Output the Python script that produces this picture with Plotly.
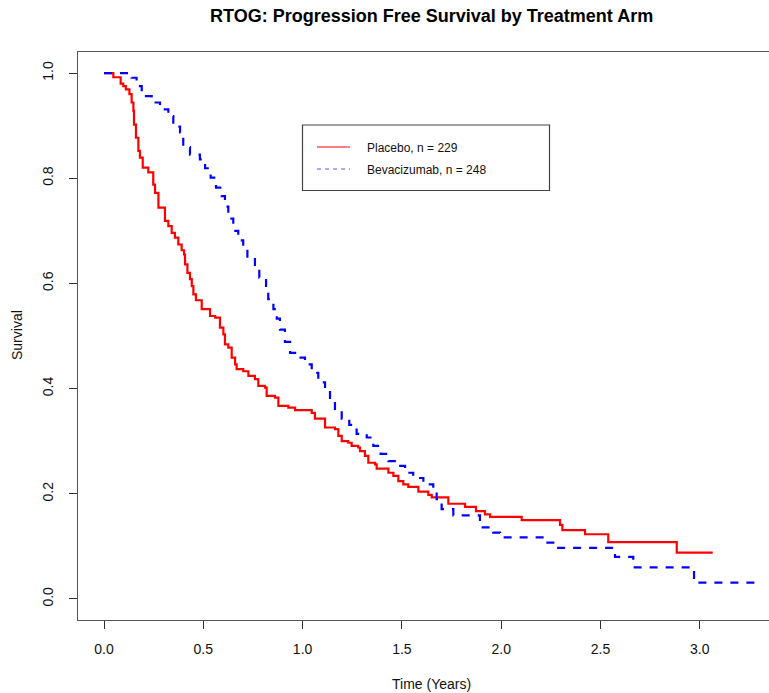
import plotly.graph_objects as go

# Kaplan-Meier step data
placebo_t = [0, 0.047, 0.084, 0.097, 0.11, 0.128, 0.139, 0.148, 0.151, 0.161, 0.173, 0.181,
             0.195, 0.223, 0.248, 0.257, 0.274, 0.307, 0.324, 0.341, 0.357, 0.374, 0.391,
             0.403, 0.408, 0.42, 0.433, 0.442, 0.45, 0.463, 0.492, 0.534, 0.56, 0.584, 0.601,
             0.609, 0.626, 0.643, 0.66, 0.668, 0.701, 0.727, 0.76, 0.777, 0.811, 0.819, 0.861,
             0.878, 0.928, 0.962, 1.046, 1.062, 1.113, 1.163, 1.18, 1.197, 1.23, 1.247, 1.28,
             1.289, 1.314, 1.331, 1.365, 1.373, 1.432, 1.457, 1.482, 1.507, 1.532, 1.583,
             1.633, 1.65, 1.734, 1.818, 1.873, 1.918, 1.944, 2.103, 2.296, 2.308, 2.422,
             2.539, 2.884, 3.065]
placebo_s = [1.0, 0.992, 0.980, 0.975, 0.969, 0.960, 0.944, 0.928, 0.902, 0.877, 0.852, 0.839,
             0.820, 0.811, 0.788, 0.772, 0.744, 0.719, 0.709, 0.696, 0.687, 0.674, 0.663,
             0.655, 0.636, 0.620, 0.608, 0.595, 0.579, 0.568, 0.551, 0.538, 0.535, 0.516, 0.503,
             0.484, 0.478, 0.459, 0.446, 0.437, 0.433, 0.424, 0.418, 0.405, 0.402, 0.386, 0.383,
             0.367, 0.364, 0.359, 0.354, 0.343, 0.326, 0.323, 0.310, 0.300, 0.297, 0.291, 0.288,
             0.281, 0.272, 0.259, 0.256, 0.248, 0.240, 0.234, 0.224, 0.218, 0.213, 0.204,
             0.198, 0.193, 0.181, 0.175, 0.167, 0.161, 0.156, 0.150, 0.141, 0.131, 0.123,
             0.108, 0.088, 0.088]

bev_t = [0, 0.139, 0.164, 0.19, 0.24, 0.282, 0.324, 0.349, 0.383, 0.399, 0.433, 0.483, 0.509,
         0.537, 0.564, 0.593, 0.609, 0.626, 0.651, 0.676, 0.701, 0.722, 0.76, 0.782, 0.816,
         0.827, 0.853, 0.870, 0.886, 0.911, 0.937, 0.970, 1.012, 1.046, 1.079, 1.113, 1.138,
         1.163, 1.197, 1.235, 1.272, 1.323, 1.356, 1.393, 1.432, 1.474, 1.516, 1.557, 1.608,
         1.658, 1.675, 1.70, 1.759, 1.893, 1.96, 1.994, 2.22, 2.271, 2.573, 2.665, 2.971, 3.278]
bev_s = [1.0, 0.991, 0.975, 0.956, 0.944, 0.931, 0.918, 0.898, 0.887, 0.859, 0.845, 0.836, 0.819,
         0.801, 0.782, 0.766, 0.746, 0.723, 0.700, 0.682, 0.666, 0.646, 0.627, 0.611, 0.592,
         0.570, 0.551, 0.533, 0.512, 0.489, 0.468, 0.459, 0.446, 0.430, 0.412, 0.396, 0.376,
         0.359, 0.343, 0.331, 0.314, 0.307, 0.291, 0.276, 0.262, 0.253, 0.240, 0.230, 0.218,
         0.206, 0.190, 0.171, 0.159, 0.136, 0.126, 0.117, 0.107, 0.097, 0.080, 0.060, 0.031, 0.031]

x_ticks = [0.0, 0.5, 1.0, 1.5, 2.0, 2.5, 3.0]
y_ticks = [0.0, 0.2, 0.4, 0.6, 0.8, 1.0]
legend_labels = ["Placebo, n = 229", "Bevacizumab, n = 248"]

FONT = "Liberation Sans, Arial, sans-serif"
W, H = 769, 693
L, R, T, B = 78, 0, 52, 73
pw, ph = W - L - R, H - T - B


def px(x):
    return (x - L) / pw


def py(y):
    return (H - B - y) / ph


fig = go.Figure()
fig.add_trace(go.Scatter(x=placebo_t, y=placebo_s, mode="lines", line_shape="hv",
                         line=dict(color="#ff0000", width=2.2), showlegend=False,
                         name=legend_labels[0]))
fig.add_trace(go.Scatter(x=bev_t, y=bev_s, mode="lines", line_shape="hv",
                         line=dict(color="#0000ff", width=2.2, dash="8px,8px"),
                         showlegend=False, name=legend_labels[1]))

shapes = [
    # legend box
    dict(type="rect", xref="paper", yref="paper", x0=px(302.5), x1=px(549.5),
         y0=py(190.5), y1=py(125), line=dict(color="#444", width=1.2), fillcolor="white"),
    dict(type="line", xref="paper", yref="paper", x0=px(317), x1=px(350),
         y0=py(147), y1=py(147), line=dict(color="#ff0000", width=1)),
    dict(type="line", xref="paper", yref="paper", x0=px(317), x1=px(350),
         y0=py(169), y1=py(169), line=dict(color="#5555ff", width=1, dash="4px,4px")),
]

annotations = [
    dict(text="<b>RTOG: Progression Free Survival by Treatment Arm</b>", xref="paper",
         yref="paper", x=px(431), y=py(16), xanchor="center", yanchor="middle",
         showarrow=False, font=dict(family=FONT, size=18, color="#000")),
    dict(text="Time (Years)", xref="paper", yref="paper", x=px(431), y=py(684),
         xanchor="center", yanchor="middle", showarrow=False,
         font=dict(family=FONT, size=14, color="#111")),
    dict(text="Survival", xref="paper", yref="paper", x=px(17), y=py(335),
         xanchor="center", yanchor="middle", showarrow=False, textangle=-90,
         font=dict(family=FONT, size=14, color="#111")),
    dict(text=legend_labels[0], xref="paper", yref="paper", x=px(365), y=py(148),
         xanchor="left", yanchor="middle", showarrow=False,
         font=dict(family=FONT, size=12, color="#111")),
    dict(text=legend_labels[1], xref="paper", yref="paper", x=px(365), y=py(170),
         xanchor="left", yanchor="middle", showarrow=False,
         font=dict(family=FONT, size=12, color="#111")),
]

x_per_px = 1 / 198.6
fig.update_layout(
    width=W, height=H,
    margin=dict(l=L, r=R, t=T, b=B, pad=0),
    paper_bgcolor="white", plot_bgcolor="white",
    showlegend=False,
    shapes=shapes, annotations=annotations,
    xaxis=dict(range=[(L - 104) * x_per_px, (W - 104) * x_per_px],
               tickvals=x_ticks, ticktext=[f"{v:.1f}" for v in x_ticks],
               ticks="outside", ticklen=8, tickcolor="#333", tickwidth=1,
               showline=True, mirror=True, linecolor="#555", linewidth=1.3,
               showgrid=False, zeroline=False, ticklabelstandoff=8,
               tickfont=dict(family=FONT, size=14, color="#111")),
    yaxis=dict(range=[-0.04, 1.04], tickvals=y_ticks,
               ticktext=[f"{v:.1f}" for v in y_ticks],
               ticks="outside", ticklen=8, tickcolor="#333", tickwidth=1,
               showline=True, mirror=False, linecolor="#555", linewidth=1.3,
               showgrid=False, zeroline=False, tickangle=-90, ticklabelstandoff=10,
               tickfont=dict(family=FONT, size=14, color="#111")),
)

fig.write_html("out.html")
